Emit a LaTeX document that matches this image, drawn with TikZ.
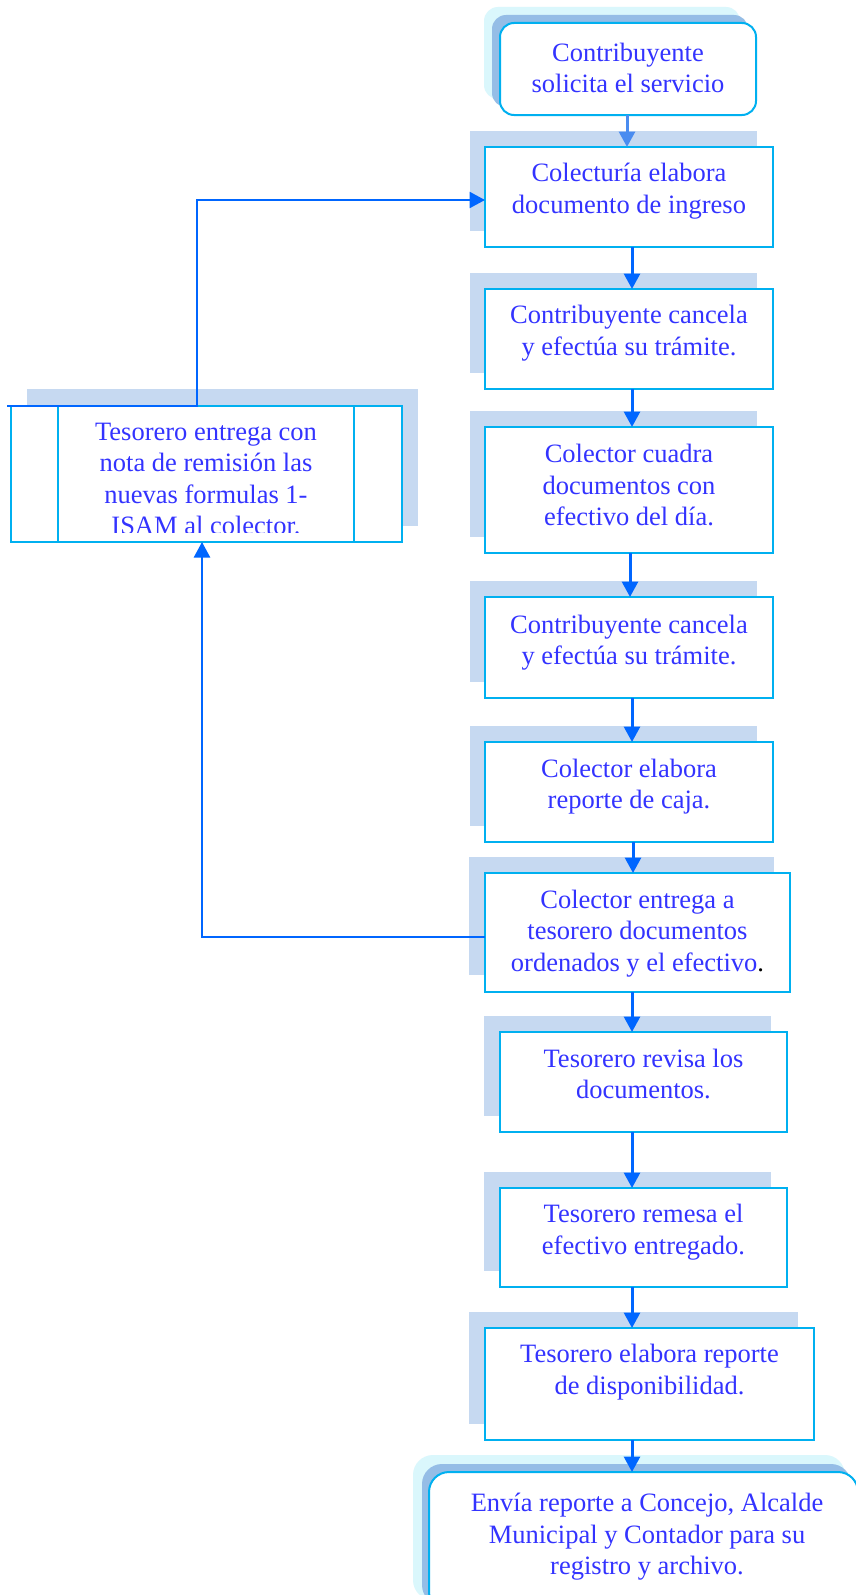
\documentclass[tikz,border=0pt]{standalone}
\usepackage{fontspec}
\setmainfont{Liberation Serif}
\usetikzlibrary{arrows.meta}
\definecolor{txtc}{RGB}{51,51,255}
\definecolor{bord}{RGB}{0,176,240}
\definecolor{shd}{RGB}{198,217,241}
\definecolor{arrc}{RGB}{0,102,255}
\definecolor{arrl}{RGB}{74,140,240}
\definecolor{shlight}{RGB}{218,247,252}
\definecolor{shmed}{RGB}{149,189,230}
\tikzset{
 box/.style={draw=bord, line width=2pt, fill=white, inner sep=0pt, outer sep=0pt},
 rbox/.style={box, rounded corners=14pt},
 txt/.style={text=txtc, align=center, font=\fontsize{26.5}{31.5}\selectfont, inner sep=0pt},
 arr/.style={draw=arrc, line width=3pt, -{Triangle[length=15.5pt,width=16pt]}},
 arrlight/.style={arr, draw=arrl, fill=arrl},
 fbarr/.style={draw=arrc, line width=2.4pt, -{Triangle[length=15.5pt,width=16pt]}},
 shadowbox/.style={fill=shd},
}
\begin{document}
\begin{tikzpicture}[x=1pt,y=-1pt]
\useasboundingbox (0,0) rectangle (856,1595);
\clip (0,0) rectangle (856,1595);
\fill[white] (0,0) rectangle (856,1595);

% shadows
\fill[shlight, rounded corners=14pt] (484,7) rectangle (740,99);
\fill[shmed, rounded corners=14pt] (492,15) rectangle (748,107);
\fill[shadowbox] (470,131) rectangle (757,231);
\fill[shadowbox] (470,273) rectangle (757,373);
\fill[shadowbox] (470,411) rectangle (757,537);
\fill[shadowbox] (470,581) rectangle (757,682);
\fill[shadowbox] (470,726) rectangle (757,826);
\fill[shadowbox] (469,857) rectangle (774,975);
\fill[shadowbox] (484,1016) rectangle (771,1116);
\fill[shadowbox] (484,1172) rectangle (771,1271);
\fill[shadowbox] (469,1312) rectangle (798,1424);
\fill[shadowbox] (27,389) rectangle (418,526);
\fill[shlight, rounded corners=20pt] (413,1455) rectangle (845,1600);
\fill[shmed, rounded corners=20pt] (422,1464) rectangle (851,1605);

% boxes
\node[rbox, minimum width=256pt, minimum height=92pt] (b1) at (628,69) {};
\node[box, minimum width=288pt, minimum height=100pt] (b2) at (629,197) {};
\node[box, minimum width=288pt, minimum height=100pt] (b3) at (629,339) {};
\node[box, minimum width=288pt, minimum height=126pt] (b4) at (629,490) {};
\node[box, minimum width=288pt, minimum height=101pt] (b5) at (629,647.5) {};
\node[box, minimum width=288pt, minimum height=100pt] (b6) at (629,792) {};
\node[box, minimum width=305pt, minimum height=119pt] (b7) at (637.5,932.5) {};
\node[box, minimum width=287pt, minimum height=100pt] (b8) at (643.5,1082) {};
\node[box, minimum width=287pt, minimum height=99pt] (b9) at (643.5,1237.5) {};
\node[box, minimum width=329pt, minimum height=112pt] (b10) at (649.5,1384) {};
\node[box, rounded corners=20pt, minimum width=429pt, minimum height=140pt] (b11) at (643.5,1542) {};
\node[box, minimum width=391pt, minimum height=136pt] (lb) at (206.5,474) {};
\draw[draw=bord, line width=2pt] ([xshift=47pt]lb.north west) -- ([xshift=47pt]lb.south west);
\draw[draw=bord, line width=2pt] ([xshift=-48pt]lb.north east) -- ([xshift=-48pt]lb.south east);

% texts
\node[txt] (t1) at (628,68) {Contribuyente\\solicita el servicio};
\node[txt] (t2) at (629,191) {Colectur\'ia elabora\\documento de ingreso};
\node[txt] (t3) at (629,333) {Contribuyente cancela\\y efect\'ua su tr\'amite.};
\node[txt] (t4) at (629,485) {Colector cuadra\\documentos con\\efectivo del d\'ia.};
\node[txt] (t5) at (629,642.5) {Contribuyente cancela\\y efect\'ua su tr\'amite.};
\node[txt] (t6) at (629,786.5) {Colector elabora\\reporte de caja.};
\node[txt] (t7) at (637.5,933.5) {Colector entrega a\\tesorero documentos\\ordenados y el efectivo{\color{black}.}};
\node[txt] (t8) at (643.5,1074) {Tesorero revisa los\\documentos.};
\node[txt] (t9) at (643.5,1232) {Tesorero remesa el\\efectivo entregado.};
\node[txt] (t10) at (649.5,1372) {Tesorero elabora reporte\\de disponibilidad.};
\node[txt] (t11) at (647,1537) {Env\'ia reporte a Concejo, Alcalde\\Municipal y Contador para su\\registro y archivo.};
\begin{scope}
\clip (58,407) rectangle (354,532);
\node[txt] (tL) at (206,479) {Tesorero entrega con\\nota de remisi\'on las\\nuevas formulas 1-\\ISAM al colector.};
\end{scope}

% vertical arrows
\coordinate (a1) at ([xshift=-1pt]b1.south);
\coordinate (a2) at ([xshift=3pt]b2.south);
\coordinate (a3) at ([xshift=3pt]b3.south);
\coordinate (a4) at ([xshift=1pt]b4.south);
\coordinate (a5) at ([xshift=3pt]b5.south);
\coordinate (a6) at ([xshift=4pt]b6.south);
\coordinate (a7) at ([xshift=-5.5pt]b7.south);
\coordinate (a8) at ([xshift=-11.5pt]b8.south);
\coordinate (a9) at ([xshift=-11.5pt]b9.south);
\coordinate (a10) at ([xshift=-17.5pt]b10.south);
\draw[arrlight] (a1) -- (a1 |- b2.north);
\draw[arr] (a2) -- (a2 |- b3.north);
\draw[arr] (a3) -- (a3 |- b4.north);
\draw[arr] (a4) -- (a4 |- b5.north);
\draw[arr] (a5) -- (a5 |- b6.north);
\draw[arr] (a6) -- (a6 |- b7.north);
\draw[arr] (a7) -- (a7 |- b8.north);
\draw[arr] (a8) -- (a8 |- b9.north);
\draw[arr] (a9) -- (a9 |- b10.north);
\draw[arr] (a10) -- (a10 |- b11.north);

% feedback connectors
\coordinate (fs) at ([xshift=-4pt]lb.north west);
\draw[fbarr] (fs) -- ++(190,0) |- ([yshift=-3pt]b2.west);
\draw[fbarr] ([yshift=-4.5pt]b7.west) -| ([xshift=-4.5pt]lb.south);
\end{tikzpicture}
\end{document}
